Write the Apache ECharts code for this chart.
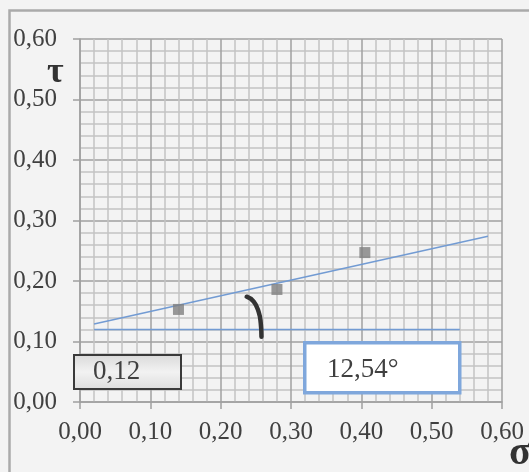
<!DOCTYPE html>
<html>
<head>
<meta charset="utf-8">
<script src="https://cdn.jsdelivr.net/npm/echarts@6/dist/echarts.min.js"></script>
<style>
html,body{margin:0;padding:0;background:#f3f3f3;}
#c{width:529px;height:472px;}
</style>
</head>
<body>
<div id="c"></div>
<script>
// Data
var pointsX = [0.14, 0.28, 0.405];
var pointsY = [0.153, 0.186, 0.247];
var trendX = [0.02, 0.58];
var trendY = [0.129, 0.274];
var baseX = [0.02, 0.54];
var baseY = [0.12, 0.12];
var arcX = [0.237, 0.247, 0.254, 0.257, 0.258];
var arcY = [0.174, 0.166, 0.149, 0.130, 0.108];
var xTicks = [0, 0.1, 0.2, 0.3, 0.4, 0.5, 0.6];
var yTicks = [0, 0.1, 0.2, 0.3, 0.4, 0.5, 0.6];
var interceptText = '0,12';
var angleText = '12,54°';
var yName = 'τ';
var xName = 'σ';

function zip(a, b) { return a.map(function (v, i) { return [v, b[i]]; }); }
function fmt(v) { return v.toFixed(2).replace('.', ','); }

var FONT = '"Liberation Serif", "DejaVu Serif", serif';

function axis(ticks, margin) {
  return {
    type: 'value',
    min: ticks[0],
    max: ticks[ticks.length - 1],
    interval: ticks[1] - ticks[0],
    axisLine: { show: true, lineStyle: { color: '#a0a0a0', width: 1.5 } },
    axisTick: { show: true, inside: false, length: 7, lineStyle: { color: '#a0a0a0', width: 1.5 } },
    axisLabel: { margin: margin, formatter: fmt, fontFamily: FONT, fontSize: 25, color: '#404040' },
    splitLine: { show: true, lineStyle: { color: '#a0a0a0', width: 1.5 } },
    minorTick: { show: false, splitNumber: 5 },
    minorSplitLine: { show: true, lineStyle: { color: '#c4c4c4', width: 1.5 } }
  };
}

var chart = echarts.init(document.getElementById('c'), null, { renderer: 'canvas' });
var xa = axis(xTicks, 18);
var ya = axis(yTicks, 23);
chart.setOption({
  backgroundColor: '#f3f3f3',
  animation: false,
  grid: { left: 80, top: 39, right: 27, bottom: 70, containLabel: false },
  xAxis: xa,
  yAxis: ya,
  series: [
    {
      type: 'line', data: zip(baseX, baseY), symbol: 'none',
      lineStyle: { color: '#729bd3', width: 1.5 }, z: 3
    },
    {
      type: 'line', data: zip(trendX, trendY), symbol: 'none',
      lineStyle: { color: '#729bd3', width: 1.5 }, z: 3
    },
    {
      type: 'line', data: zip(arcX, arcY), symbol: 'none', smooth: true,
      lineStyle: { color: '#333333', width: 4.5, cap: 'round' }, z: 4
    },
    {
      type: 'scatter', data: zip(pointsX, pointsY), symbol: 'rect', symbolSize: 11,
      itemStyle: { color: '#7f7f7f' }, z: 5
    }
  ],
  graphic: [
    {
      type: 'rect', left: 7, top: 8, z: -1, silent: true,
      shape: { width: 540, height: 480 },
      style: { fill: 'none', stroke: '#aaaaaa', lineWidth: 2.5 }
    },
    {
      type: 'rect', left: 73, top: 354, z: 10,
      shape: { width: 107, height: 34 },
      style: {
        fill: new echarts.graphic.LinearGradient(0, 0, 0, 1, [
          { offset: 0, color: '#d9d9d9' }, { offset: 0.5, color: '#f2f2f2' }, { offset: 1, color: '#dcdcdc' }
        ]),
        stroke: '#3a3a3a', lineWidth: 2
      }
    },
    {
      type: 'text', left: 93, top: 358, z: 11,
      style: { text: interceptText, font: '27px ' + FONT, fill: '#404040' }
    },
    {
      type: 'rect', left: 303, top: 341, z: 10,
      shape: { width: 155, height: 50 },
      style: { fill: '#ffffff', stroke: '#7fa7dc', lineWidth: 3.5 }
    },
    {
      type: 'text', left: 327, top: 356, z: 11,
      style: { text: angleText, font: '27px ' + FONT, fill: '#404040' }
    },
    {
      type: 'text', left: 47, top: 55, z: 11,
      style: { text: yName, font: 'bold 36px ' + FONT, fill: '#333333' }
    },
    {
      type: 'text', left: 509, top: 434, z: 11,
      style: { text: xName, font: 'bold 40px ' + FONT, fill: '#333333' }
    }
  ]
});
</script>
</body>
</html>
